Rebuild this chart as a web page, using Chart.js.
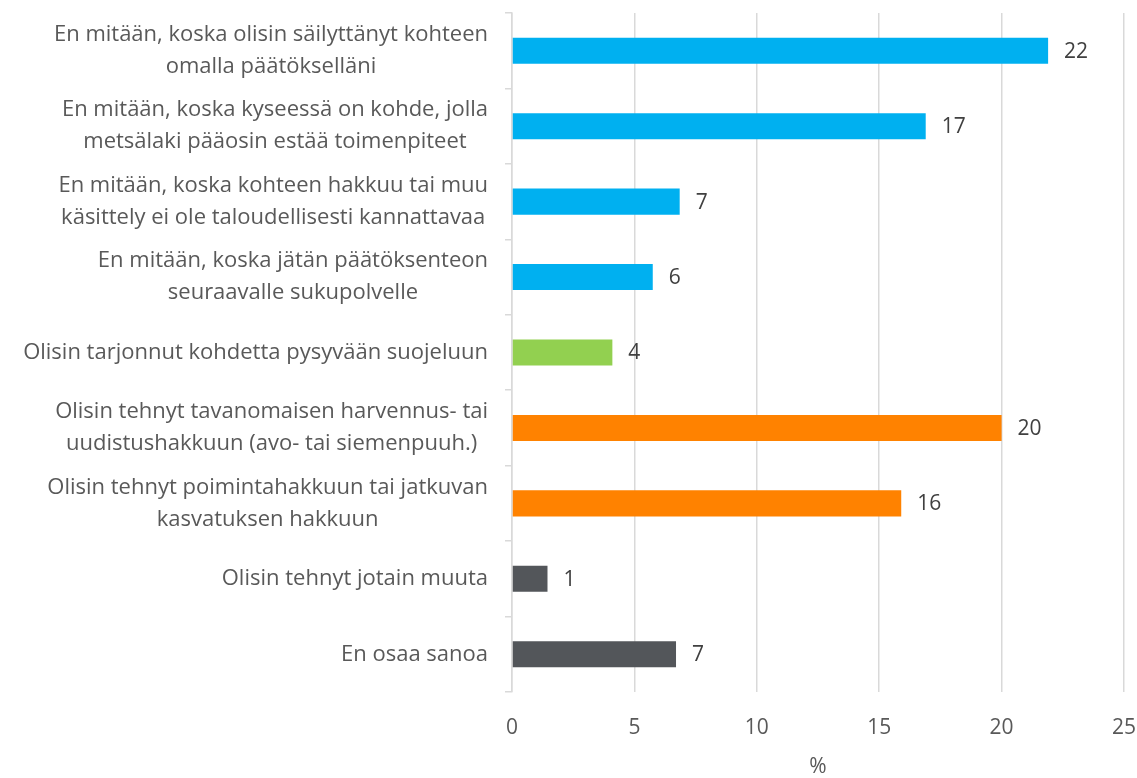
<!DOCTYPE html>
<html>
<head>
<meta charset="utf-8">
<script src="https://cdn.jsdelivr.net/npm/chart.js@4"></script>
<style>
  html, body { margin: 0; padding: 0; background: #fff; }
  #wrap { width: 1137px; height: 778px; }
</style>
</head>
<body>
<div id="wrap"><canvas id="chart" width="1137" height="778"></canvas></div>
<script>
// Answer options (multi-line labels as drawn in the original)
const categories = [
  ['En mitään, koska olisin säilyttänyt kohteen', 'omalla päätökselläni'],
  ['En mitään, koska kyseessä on kohde, jolla', 'metsälaki pääosin estää toimenpiteet'],
  ['En mitään, koska kohteen hakkuu tai muu', 'käsittely ei ole taloudellisesti kannattavaa'],
  ['En mitään, koska jätän päätöksenteon', 'seuraavalle sukupolvelle'],
  ['Olisin tarjonnut kohdetta pysyvään suojeluun'],
  ['Olisin tehnyt tavanomaisen harvennus- tai', 'uudistushakkuun (avo- tai siemenpuuh.)'],
  ['Olisin tehnyt poimintahakkuun tai jatkuvan', 'kasvatuksen hakkuun'],
  ['Olisin tehnyt jotain muuta'],
  ['En osaa sanoa']
];

// Shares in percent
const values = [21.9, 16.9, 6.85, 5.75, 4.1, 20.0, 15.9, 1.45, 6.7];

// Bar colour per answer group
const barColors = [
  '#00b0f0', '#00b0f0', '#00b0f0', '#00b0f0',
  '#92d050',
  '#ff8200', '#ff8200',
  '#53565a', '#53565a'
];

const xTicks = [0, 5, 10, 15, 20, 25];

const FONT = '"Open Sans", "Noto Sans", sans-serif';
const TEXT = '#595959';

// Category labels: each block right-aligned, its lines centred among themselves
const categoryLabels = {
  id: 'categoryLabels',
  afterDraw(chart) {
    const { ctx } = chart;
    const y = chart.scales.y;
    const right = y.right - 24;
    const lineH = 32;
    ctx.save();
    ctx.font = '22px ' + FONT;
    ctx.fillStyle = TEXT;
    ctx.textBaseline = 'middle';
    ctx.textAlign = 'center';
    categories.forEach((lines, i) => {
      const cy = y.getPixelForTick(i);
      const w = Math.max(...lines.map(l => ctx.measureText(l).width));
      const cx = right - w / 2;
      const y0 = cy - (lines.length - 1) * lineH / 2;
      lines.forEach((l, j) => ctx.fillText(l, cx, y0 + j * lineH));
    });
    ctx.restore();
  }
};

// Value labels at the end of each bar
const valueLabels = {
  id: 'valueLabels',
  afterDatasetsDraw(chart) {
    const { ctx } = chart;
    const meta = chart.getDatasetMeta(0);
    ctx.save();
    ctx.font = '21px ' + FONT;
    ctx.fillStyle = '#404040';
    ctx.textBaseline = 'middle';
    ctx.textAlign = 'left';
    meta.data.forEach((bar, i) => {
      ctx.fillText(String(Math.round(values[i])), bar.x + 16, bar.y + 1);
    });
    ctx.restore();
  }
};

new Chart(document.getElementById('chart'), {
  type: 'bar',
  data: {
    labels: categories,
    datasets: [{
      data: values,
      backgroundColor: barColors,
      borderWidth: 0,
      barPercentage: 0.345,
      categoryPercentage: 1
    }]
  },
  options: {
    indexAxis: 'y',
    responsive: false,
    animation: false,
    layout: { padding: { top: 13, right: 0, bottom: 0, left: 0 } },
    plugins: {
      legend: { display: false },
      tooltip: { enabled: false }
    },
    scales: {
      x: {
        min: 0,
        max: 25,
        afterBuildTicks(scale) {
          scale.ticks = xTicks.map(v => ({ value: v }));
        },
        afterFit(scale) {
          scale.paddingRight = 13;
          scale.height = 86;
        },
        grid: { color: '#d9d9d9', lineWidth: 1.5, drawTicks: false },
        border: { display: false },
        ticks: {
          color: TEXT,
          font: { family: FONT, size: 21 },
          padding: 23
        },
        title: {
          display: true,
          text: '%',
          color: TEXT,
          font: { family: FONT, size: 21, lineHeight: 1 },
          padding: { top: 0, bottom: 0 }
        }
      },
      y: {
        afterFit(scale) { scale.width = 512; },
        grid: {
          offset: true,
          drawOnChartArea: false,
          drawTicks: true,
          tickLength: 7,
          color: '#d9d9d9',
          lineWidth: 1.5
        },
        border: { color: '#d9d9d9', width: 1.5 },
        ticks: { display: false }
      }
    }
  },
  plugins: [categoryLabels, valueLabels]
});
</script>
</body>
</html>
